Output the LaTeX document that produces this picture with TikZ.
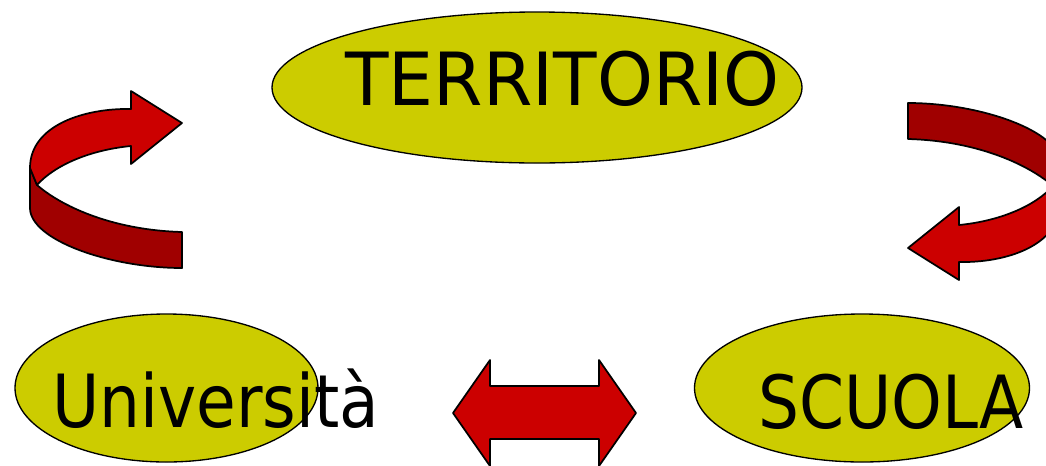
\documentclass[tikz,border=0pt]{standalone}
\usepackage{fontspec}
\newfontfamily\blobfont[FakeStretch=0.88]{DejaVu Sans}
\newfontfamily\bigblobfont[FakeStretch=0.97]{DejaVu Sans}
\usetikzlibrary{shapes.geometric}
\definecolor{blobyellow}{HTML}{CCCC00}
\definecolor{arrowred}{HTML}{CC0000}
\definecolor{arrowdark}{HTML}{A00000}
\tikzset{
  blob/.style={ellipse, draw=black, line width=1pt, fill=blobyellow, inner sep=0pt},
  blobtext/.style={anchor=base, inner sep=0pt, font={\blobfont\fontsize{55}{60}\selectfont}},
  bigblobtext/.style={blobtext, font={\bigblobfont\fontsize{55}{60}\selectfont}},
  face/.style={draw=black, line width=1.3pt, line join=round},
  lightface/.style={face, fill=arrowred},
  darkface/.style={face, fill=arrowdark}
}
% ribbon arrow turning over, tip to the upper right
\newcommand\twistarrow{%
  \draw[darkface] (30,168) -- (30,208) .. controls (30,240) and (110,268) .. (182,268)
    -- (182,232) .. controls (110,230) and (60,205) .. (37,185) -- cycle;
  \draw[lightface] (30,168) .. controls (30,125) and (85,108) .. (131,109)
    -- (131,91) -- (182,123) -- (131,164) -- (131,146)
    .. controls (90,150) and (55,165) .. (37,185) -- cycle;
}
\begin{document}
\begin{tikzpicture}[x=0.75pt, y=-0.75pt]
  \useasboundingbox (0,0) rectangle (1046,465);
  % the three ellipses
  \node[blob, minimum width=397.5pt, minimum height=113.25pt] (terr) at (537,87.5) {};
  \node[blob, minimum width=227.25pt, minimum height=111pt] (univ) at (166.5,388) {};
  \node[blob, minimum width=251.25pt, minimum height=111pt] (scuola) at (862,388) {};
  \node[bigblobtext] (terrtext) at (562.5,105) {TERRITORIO};
  \node[blobtext] (univtext) at (215.5,427) {Università};
  \node[blobtext] (scuolatext) at (891,428) {SCUOLA};
  % curved arrows
  \twistarrow
  \begin{scope}[rotate around={180:(545,185.5)}]
    \twistarrow
  \end{scope}
  % double arrow
  \draw[lightface] (453,413) -- (490,360) -- (490,386) -- (599,386) -- (599,360)
    -- (636,413) -- (599,466) -- (599,439) -- (490,439) -- (490,466) -- cycle;
\end{tikzpicture}
\end{document}
